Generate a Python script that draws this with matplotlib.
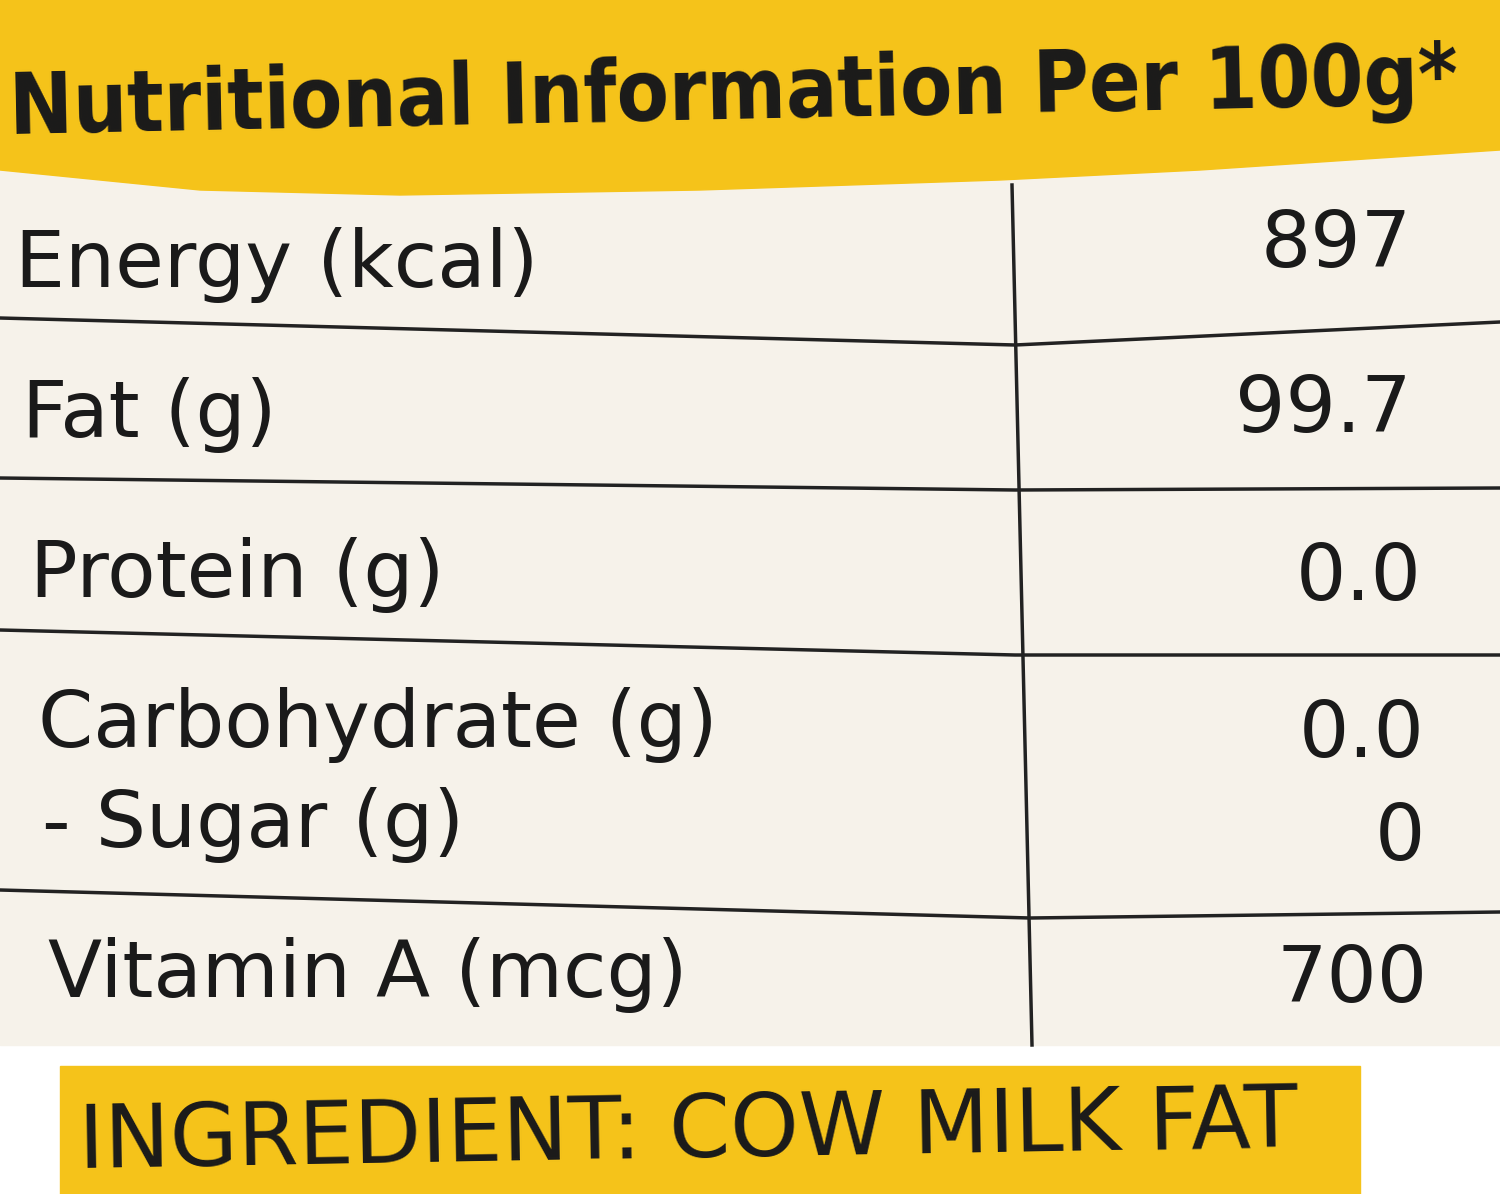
import matplotlib
matplotlib.use("Agg")
import matplotlib.pyplot as plt
from matplotlib.patches import Polygon, Rectangle

title = "Nutritional Information Per 100g*"
nutrients = ["Energy (kcal)", "Fat (g)", "Protein (g)", "Carbohydrate (g)", "- Sugar (g)", "Vitamin A (mcg)"]
values = ["897", "99.7", "0.0", "0.0", "0", "700"]
ingredient = "INGREDIENT: COW MILK FAT"

label_pos = [(15, 265), (22, 415), (30, 575), (38, 725), (42, 825), (48, 975)]
value_pos = [(1412, 245), (1412, 410), (1422, 578), (1425, 735), (1425, 838), (1428, 980)]

fig = plt.figure(figsize=(15, 11.94), dpi=100)
ax = fig.add_axes([0, 0, 1, 1])
ax.set_xlim(0, 1500); ax.set_ylim(1194, 0); ax.axis("off")

ax.add_patch(Rectangle((0, 0), 1500, 1045, color="#F6F2EA", zorder=0))
yellow = "#F5C31A"
ax.add_patch(Polygon([(0, 0), (1500, 0), (1500, 150), (1200, 170), (1000, 180),
                      (700, 190), (400, 195), (200, 190), (0, 170)], color=yellow, zorder=1))
ax.text(8, 95, title, fontsize=61, fontweight="bold", fontstretch="condensed",
        color="#1a1a1a", va="center", ha="left", rotation=1.2, zorder=3)

lines = [[(0, 318), (1015, 345), (1500, 322)],
         [(0, 478), (1015, 490), (1500, 488)],
         [(0, 630), (1015, 655), (1500, 655)],
         [(0, 890), (1030, 918), (1500, 912)],
         [(1012, 185), (1032, 1045)]]
for ln in lines:
    xs, ys = zip(*ln)
    ax.plot(xs, ys, color="#222222", lw=2.5, zorder=2)

for (x, y), t in zip(label_pos, nutrients):
    ax.text(x, y, t, fontsize=57, color="#1a1a1a", va="center", ha="left", zorder=3)
for (x, y), t in zip(value_pos, values):
    ax.text(x, y, t, fontsize=57, color="#1a1a1a", va="center", ha="right", zorder=3)

ax.add_patch(Rectangle((60, 1066), 1300, 128, color=yellow, zorder=1))
ax.text(78, 1133, ingredient, fontsize=63, color="#1a1a1a", va="center", ha="left",
        rotation=1, zorder=3)

fig.savefig("out.png", dpi=100)
